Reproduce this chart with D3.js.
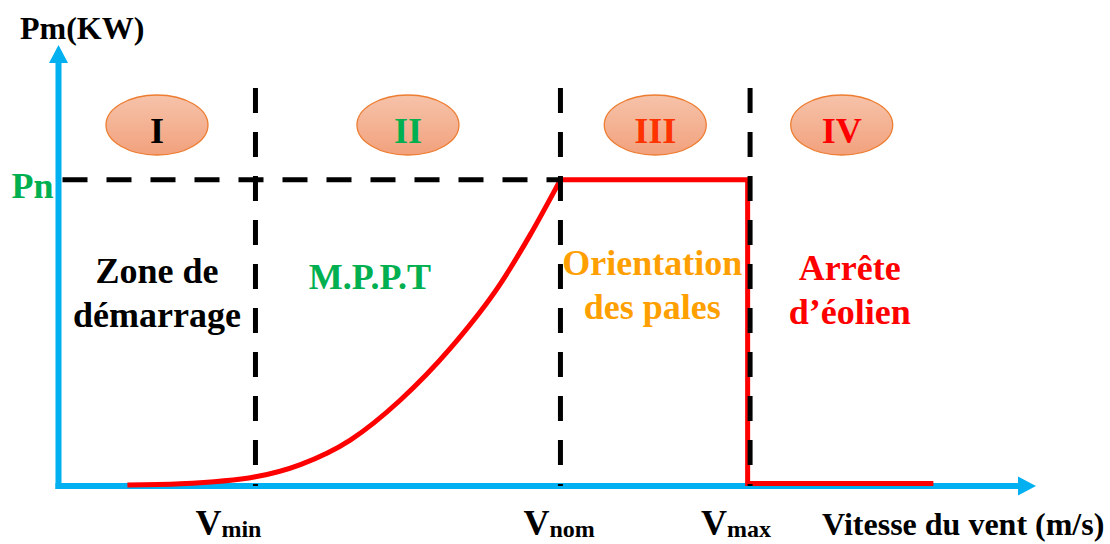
<!DOCTYPE html>
<html>
<head>
<meta charset="utf-8">
<script src="https://cdn.jsdelivr.net/npm/d3@7"></script>
<style>
    body { margin: 0; background: #fff; }
    text { font-family: "Liberation Serif", "Times New Roman", serif; font-weight: bold; }
</style>
</head>
<body>
<div id="chart"></div>
<script>
// wind speed breakpoints (m/s)
const vMin = 4.03, vNom = 10.27, vMax = 14.15, vEnd = 17.9, vAxisEnd = 20;
const pNominal = 1, pAxisEnd = 1.44;

// zone II power curve (P / Pn)
const mpptSpeed = [1.41, 2.49, 4.03, 4.95, 5.97, 6.99, 8.02, 9.04, 9.65, 10.27];
const mpptPower = [0.003, 0.007, 0.03, 0.07, 0.15, 0.28, 0.45, 0.66, 0.82, 1.0];

// zones III and IV: limited power then shutdown
const limitSpeed = [10.27, 14.1, 14.1, 17.9];
const limitPower = [1, 1, 0.008, 0.008];

const zoneBounds = [0, vMin, vNom, vMax, vEnd];
const zoneNumerals = ["I", "II", "III", "IV"];
const zoneNames = [["Zone de", "démarrage"], ["M.P.P.T"], ["Orientation", "des pales"], ["Arrête", "d’éolien"]];
const speedTicks = [vMin, vNom, vMax];
const tickSubs = ["min", "nom", "max"];

// styles
const numeralColors = ["#000000", "#00B050", "#FF3300", "#FF0000"];
const nameColors = ["#000000", "#00B050", "#FFA000", "#FF0000"];
const nameDx = [0, -38, -3, 8];
const nameTop = [283, 289, 275, 280];
const tickDx = [-60, -37, -49];

const width = 1110, height = 544;
const blue = "#00B0F0", red = "#FF0000";

const svg = d3.select("#chart").append("svg")
    .attr("width", width)
    .attr("height", height);

// scales
const x = d3.scaleLinear().domain([0, vAxisEnd]).range([58.5, 1036]);
const y = d3.scaleLinear().domain([0, pAxisEnd]).range([486, 45]);

// gradient for the zone badges
const grad = svg.append("defs").append("linearGradient")
    .attr("id", "badge")
    .attr("x1", 0).attr("y1", 0).attr("x2", 0).attr("y2", 1);
grad.append("stop").attr("offset", "0%").attr("stop-color", "#F6C3AA");
grad.append("stop").attr("offset", "100%").attr("stop-color", "#F2A17D");

// axes
const arrow = 18, arrowHalf = 9.5;
svg.append("line")
    .attr("x1", x(0)).attr("y1", y(0))
    .attr("x2", x(vAxisEnd) - arrow).attr("y2", y(0))
    .attr("stroke", blue).attr("stroke-width", 6).attr("stroke-linecap", "square");
svg.append("path")
    .attr("d", `M${x(vAxisEnd)},${y(0)}L${x(vAxisEnd) - arrow},${y(0) - arrowHalf}L${x(vAxisEnd) - arrow},${y(0) + arrowHalf}Z`)
    .attr("fill", blue);

svg.append("line")
    .attr("x1", x(0)).attr("y1", y(0))
    .attr("x2", x(0)).attr("y2", y(pAxisEnd) + arrow)
    .attr("stroke", blue).attr("stroke-width", 6).attr("stroke-linecap", "square");
svg.append("path")
    .attr("d", `M${x(0)},${y(pAxisEnd)}L${x(0) - arrowHalf},${y(pAxisEnd) + arrow}L${x(0) + arrowHalf},${y(pAxisEnd) + arrow}Z`)
    .attr("fill", blue);

// power curve
const line = d3.line().x(d => x(d[0])).y(d => y(d[1]));

svg.append("path")
    .datum(d3.zip(mpptSpeed, mpptPower))
    .attr("d", line.curve(d3.curveMonotoneX))
    .attr("fill", "none")
    .attr("stroke", red)
    .attr("stroke-width", 5);

svg.append("path")
    .datum(d3.zip(limitSpeed, limitPower))
    .attr("d", line.curve(d3.curveLinear))
    .attr("fill", "none")
    .attr("stroke", red)
    .attr("stroke-width", 5);

// dashed guides
svg.append("line")
    .attr("x1", x(0) + 4).attr("y1", y(pNominal))
    .attr("x2", x(vNom)).attr("y2", y(pNominal))
    .attr("stroke", "#000").attr("stroke-width", 5)
    .attr("stroke-dasharray", "25,19");

svg.selectAll(".guide")
    .data(speedTicks)
    .enter().append("line")
    .attr("class", "guide")
    .attr("x1", d => x(d)).attr("x2", d => x(d))
    .attr("y1", 88).attr("y2", y(0))
    .attr("stroke", "#000").attr("stroke-width", 5)
    .attr("stroke-dasharray", "25,19");

// zone badges
const zones = zoneNumerals.map((n, i) => ({
    numeral: n,
    mid: (zoneBounds[i] + zoneBounds[i + 1]) / 2,
    names: zoneNames[i],
    i: i
}));

const badge = svg.selectAll(".badge")
    .data(zones)
    .enter().append("g")
    .attr("class", "badge")
    .attr("transform", d => `translate(${x(d.mid)},125)`);

badge.append("ellipse")
    .attr("rx", 51).attr("ry", 30)
    .attr("fill", "url(#badge)")
    .attr("stroke", "#ED7D31")
    .attr("stroke-width", 1.3);

badge.append("text")
    .attr("y", 18)
    .attr("text-anchor", "middle")
    .style("font-size", "36px")
    .attr("fill", d => numeralColors[d.i])
    .text(d => d.numeral);

// zone names
svg.selectAll(".zone-name")
    .data(zones)
    .enter().append("text")
    .attr("class", "zone-name")
    .attr("text-anchor", "middle")
    .style("font-size", "36px")
    .attr("fill", d => nameColors[d.i])
    .each(function (d) {
        d3.select(this).selectAll("tspan")
            .data(d.names)
            .enter().append("tspan")
            .attr("x", x(d.mid) + nameDx[d.i])
            .attr("y", (t, k) => nameTop[d.i] + k * 44)
            .text(t => t);
    });

// speed tick labels
const tick = svg.selectAll(".tick-label")
    .data(speedTicks)
    .enter().append("text")
    .attr("class", "tick-label")
    .attr("x", (d, i) => x(d) + tickDx[i])
    .attr("y", 535)
    .style("font-size", "36px");
tick.append("tspan").text("V");
tick.append("tspan")
    .attr("dy", 2)
    .style("font-size", "24px")
    .text((d, i) => tickSubs[i]);

// axis titles
svg.append("text")
    .attr("x", 20).attr("y", 39)
    .style("font-size", "32px")
    .text("Pm(KW)");

svg.append("text")
    .attr("x", x(0) - 5).attr("y", y(pNominal) + 18)
    .attr("text-anchor", "end")
    .attr("fill", "#00B050")
    .style("font-size", "36px")
    .text("Pn");

svg.append("text")
    .attr("x", 822).attr("y", 535)
    .style("font-size", "32px")
    .text("Vitesse du vent (m/s)");
</script>
</body>
</html>
